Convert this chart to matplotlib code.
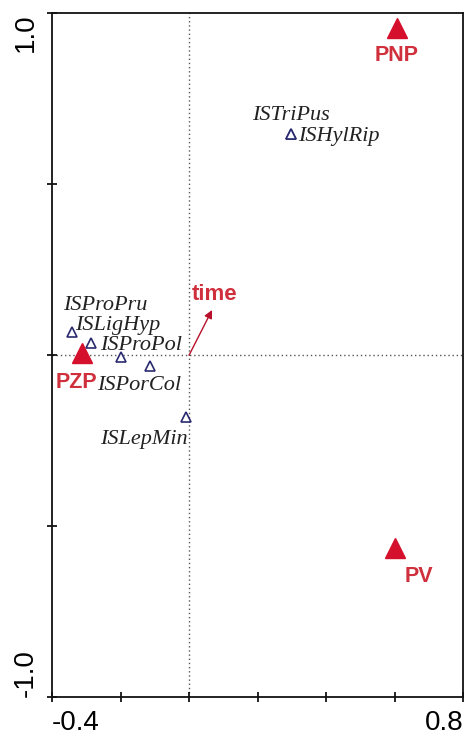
import matplotlib
matplotlib.use("Agg")
import matplotlib.pyplot as plt

# Species scores (open triangles)
species = ["ISTriPus", "ISHylRip", "ISProPru", "ISLigHyp", "ISProPol", "ISPorCol", "ISLepMin"]
species_x = [0.298, 0.298, -0.342, -0.286, -0.200, -0.114, -0.009]
species_y = [0.646, 0.646, 0.067, 0.035, -0.006, -0.032, -0.181]
species_off = [(39, 19, "right"), (7, -2, "left"), (-9, 27, "left"), (-16, 18, "left"),
               (-20, 12, "left"), (-53, -19, "left"), (-86, -23, "left")]

# Site / treatment centroids (filled red triangles)
sites = ["PNP", "PV", "PZP"]
sites_x = [0.607, 0.600, -0.312]
sites_y = [0.956, -0.564, 0.006]
sites_off = [(0, -27, "center"), (10, -29, "left"), (15, -29, "right")]

# Quantitative variable arrow
arrow_name = "time"
arrow_x, arrow_y = 0.067, 0.132

fig = plt.figure(figsize=(4.65, 7.36), dpi=100)
ax = fig.add_axes([0.112, 0.053, 0.884, 0.929])
ax.set_xlim(-0.4, 0.8)
ax.set_ylim(-1.0, 1.0)

ax.axvline(0, color="#555555", lw=1.0, ls=(0, (1, 2)), zorder=1)
ax.axhline(0, color="#555555", lw=1.0, ls=(0, (1, 2)), zorder=1)

red = "#d4102c"
navy = "#2a2a70"

ax.plot(species_x, species_y, ls="none", marker="^", ms=7, mfc="white",
        mec=navy, mew=1.2, zorder=3)
for name, x, y, (dx, dy, ha) in zip(species, species_x, species_y, species_off):
    ax.annotate(name, (x, y), xytext=(dx, dy), textcoords="offset pixels",
                ha=ha, va="center", fontsize=16, style="italic",
                family="Liberation Serif", color="#222222", zorder=4)

ax.plot(sites_x, sites_y, ls="none", marker="^", ms=15, color=red, zorder=5)
for name, x, y, (dx, dy, ha) in zip(sites, sites_x, sites_y, sites_off):
    ax.annotate(name, (x, y), xytext=(dx, dy), textcoords="offset pixels",
                ha=ha, va="center", fontsize=15.5, fontweight="bold",
                family="Liberation Sans", color="#d0303c", zorder=6)

ax.annotate("", xy=(arrow_x, arrow_y), xytext=(0, 0),
            arrowprops=dict(arrowstyle="-|>", color="#b8102a", lw=1.0,
                            mutation_scale=12, shrinkA=0, shrinkB=0), zorder=5)
ax.annotate(arrow_name, (arrow_x, arrow_y), xytext=(-20, 15), textcoords="offset pixels",
            ha="left", va="center", fontsize=16, fontweight="bold",
            family="Liberation Sans", color="#d0303c", zorder=6)

xt = [-0.4, -0.2, 0.0, 0.2, 0.4, 0.6, 0.8]
yt = [-1.0, -0.5, 0.0, 0.5, 1.0]
ax.set_xticks(xt)
ax.set_xticklabels(["-0.4", "", "", "", "", "", "0.8"])
ax.set_yticks(yt)
ax.set_yticklabels(["-1.0", "", "", "", "1.0"], rotation=90)
ax.tick_params(direction="inout", length=7, width=1.2, labelsize=20, pad=6)
for lab in ax.get_xticklabels():
    lab.set_family("Liberation Sans")
xl = ax.get_xticklabels()
xl[0].set_ha("left")
xl[-1].set_ha("right")
yl = ax.get_yticklabels()
for lab in yl:
    lab.set_family("Liberation Sans")
yl[0].set_va("bottom")
yl[-1].set_va("top")

for s in ax.spines.values():
    s.set_linewidth(1.3)
    s.set_color("#111111")

fig.savefig("out.png", dpi=100)
